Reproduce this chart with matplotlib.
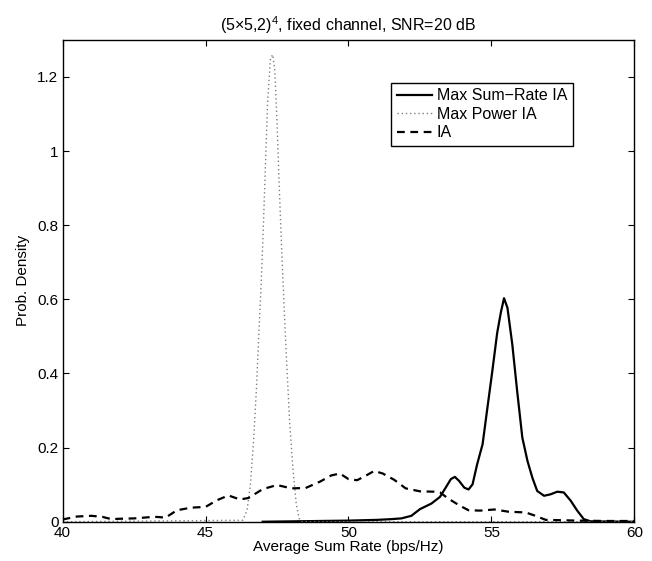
import matplotlib
matplotlib.use("Agg")
import matplotlib.pyplot as plt

plt.rcParams['font.family'] = ['Liberation Sans', 'DejaVu Sans']
plt.rcParams['mathtext.fontset'] = 'custom'
plt.rcParams['mathtext.rm'] = 'Liberation Sans'

# Max Sum-Rate IA (solid)
x_msr = [47, 48, 49, 50, 50.5, 51, 51.5, 51.85, 52.2, 52.5, 52.9, 53.2, 53.4, 53.58,
         53.72, 53.87, 54.05, 54.2, 54.34, 54.5, 54.69, 54.86, 55.03, 55.2, 55.33,
         55.44, 55.56, 55.73, 55.9, 56.08, 56.26, 56.43, 56.6, 56.84, 57.07, 57.3,
         57.53, 57.77, 58.0, 58.23, 58.47, 60]
y_msr = [0, 0.001, 0.002, 0.003, 0.004, 0.005, 0.007, 0.009, 0.016, 0.034, 0.049,
         0.067, 0.092, 0.115, 0.121, 0.11, 0.092, 0.087, 0.101, 0.155, 0.209, 0.308,
         0.406, 0.509, 0.565, 0.603, 0.577, 0.478, 0.352, 0.227, 0.164, 0.119, 0.083,
         0.07, 0.074, 0.081, 0.079, 0.057, 0.03, 0.007, 0.001, 0]

# Max Power IA (dotted)
x_mp = [40, 46.3, 46.45, 46.57, 46.69, 46.78, 46.86, 46.94, 47.01, 47.09, 47.17,
        47.27, 47.35, 47.42, 47.5, 47.58, 47.67, 47.77, 47.85, 47.94, 48.06, 48.17,
        48.27, 48.37, 60]
y_mp = [0, 0.004, 0.03, 0.1, 0.23, 0.36, 0.5, 0.63, 0.77, 0.95, 1.13, 1.25, 1.26,
        1.22, 1.08, 0.9, 0.72, 0.54, 0.41, 0.27, 0.14, 0.05, 0.009, 0, 0]

# IA (dashed)
x_ia = [40, 40.5, 41, 41.4, 41.7, 42, 42.5, 43, 43.3, 43.6, 44, 44.5, 45, 45.4, 45.8,
        46.2, 46.5, 47, 47.5, 48, 48.5, 49, 49.4, 49.7, 50, 50.3, 50.6, 50.9, 51.2,
        51.6, 52, 52.5, 53, 53.2, 53.5, 53.9, 54.2, 54.6, 55.1, 55.6, 56.2, 56.5,
        56.9, 57.5, 58, 59, 60]
y_ia = [0.006, 0.014, 0.016, 0.013, 0.007, 0.008, 0.009, 0.012, 0.013, 0.011, 0.031,
        0.038, 0.04, 0.058, 0.071, 0.06, 0.064, 0.088, 0.099, 0.09, 0.091, 0.108,
        0.125, 0.13, 0.115, 0.112, 0.124, 0.137, 0.13, 0.113, 0.09, 0.082, 0.081,
        0.079, 0.062, 0.043, 0.031, 0.03, 0.033, 0.027, 0.025, 0.017, 0.005, 0.004,
        0.003, 0.002, 0.002]

fig = plt.figure(figsize=(6.52, 5.61), dpi=100)
ax = fig.add_axes([0.096, 0.07, 0.877, 0.859])

ax.plot(x_msr, y_msr, color='black', lw=1.6, label='Max Sum\u2212Rate IA')
ax.plot(x_mp, y_mp, color='#808080', lw=1.0, linestyle=(0, (1, 2)), label='Max Power IA')
ax.plot(x_ia, y_ia, color='black', lw=1.6, linestyle=(0, (3.5, 2.5)), label='IA')

ax.set_xlim(40, 60)
ax.set_ylim(0, 1.3)
ax.set_xticks([40, 45, 50, 55, 60])
ax.set_yticks([0, 0.2, 0.4, 0.6, 0.8, 1.0, 1.2])
ax.set_yticklabels(['0', '0.2', '0.4', '0.6', '0.8', '1', '1.2'])
ax.tick_params(direction='in', top=True, right=True, length=4, width=0.8,
               labelsize=11, pad=3)
for s in ax.spines.values():
    s.set_linewidth(1.0)

ax.set_xlabel('Average Sum Rate (bps/Hz)', fontsize=11, labelpad=0)
ax.set_ylabel('Prob. Density', fontsize=11, labelpad=5)
ax.set_title('(5\u00d75,2)$^{4}$, fixed channel, SNR=20 dB', fontsize=11.5, pad=6)

leg = ax.legend(loc='upper right', bbox_to_anchor=(0.892, 0.911), fontsize=11.5,
                fancybox=False, edgecolor='black', framealpha=1,
                borderpad=0.35, labelspacing=0.22, handlelength=2.2, handletextpad=0.3,
                borderaxespad=0)
leg.get_frame().set_linewidth(1.0)

fig.savefig('out.png', dpi=100)
